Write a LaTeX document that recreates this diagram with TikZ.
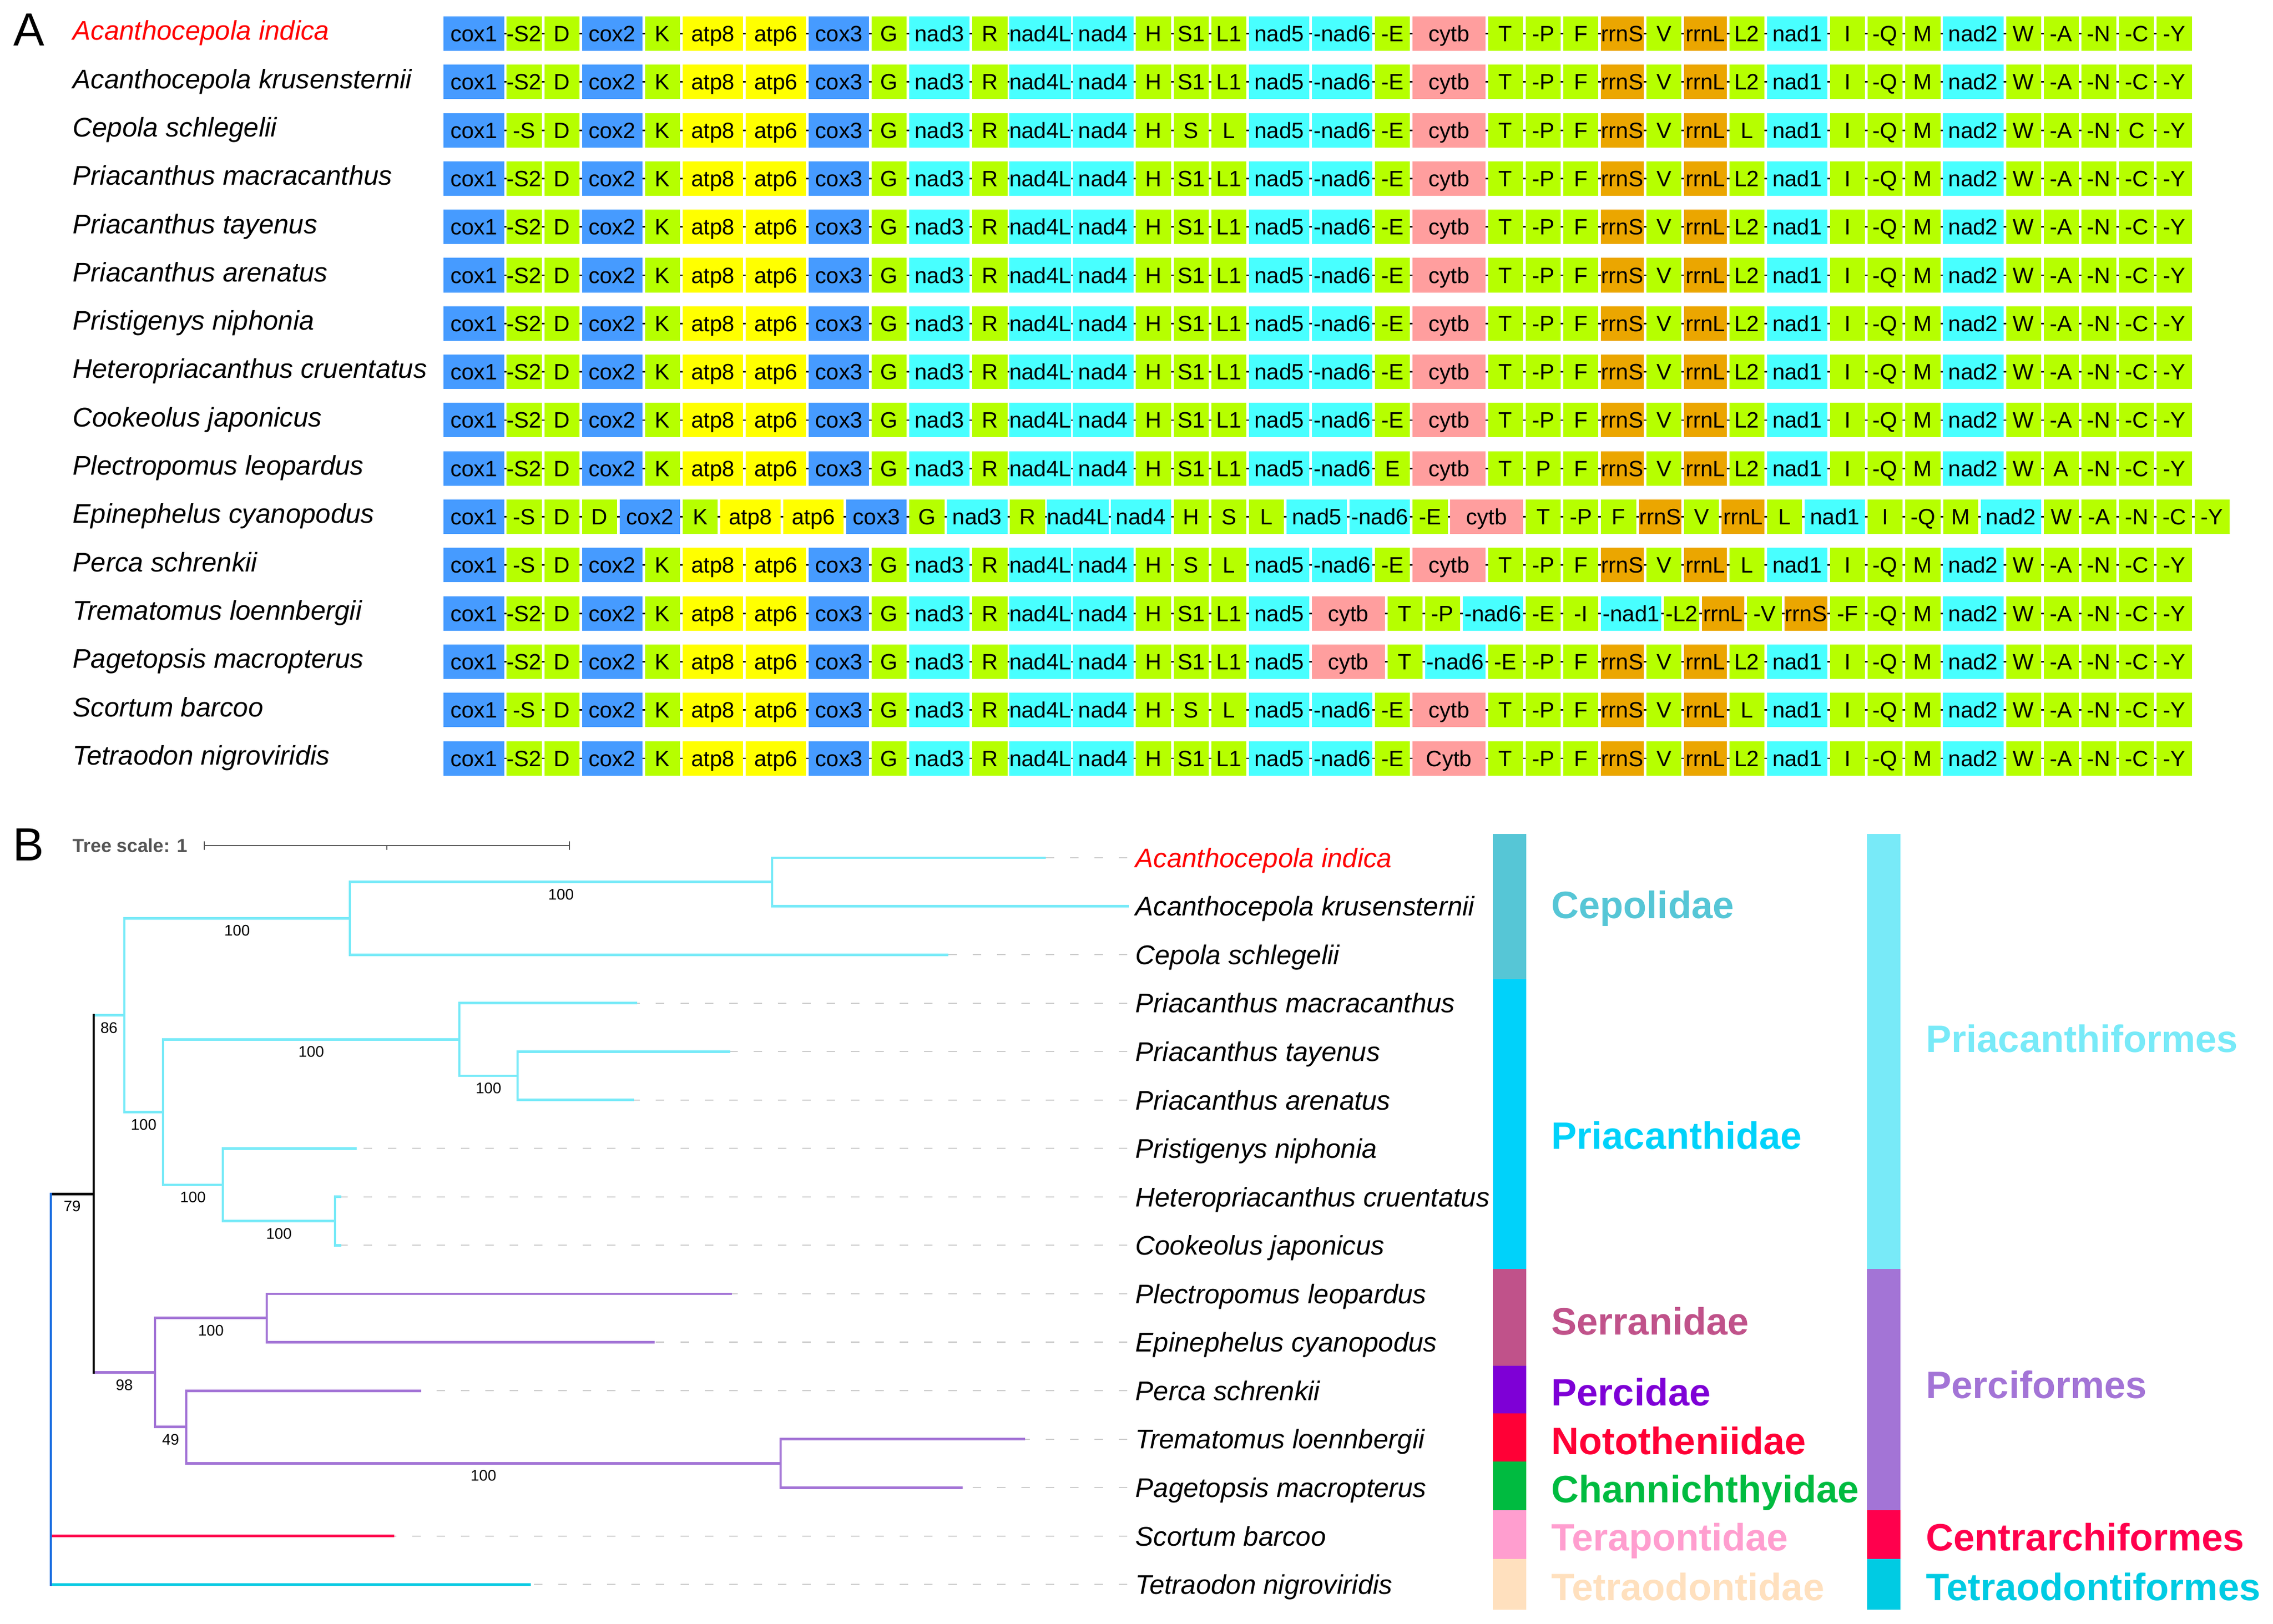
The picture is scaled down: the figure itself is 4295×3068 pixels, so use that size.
\documentclass[tikz,border=0pt]{standalone}
\usepackage{fontspec}
\setmainfont{Liberation Sans}
\usepackage{tikz}
\usetikzlibrary{calc}
\usetikzlibrary{backgrounds}
\usepackage{color}
% gene classes
\definecolor{genec}{RGB}{70, 155, 255}
\definecolor{genet}{RGB}{182, 255, 0}
\definecolor{genea}{RGB}{255, 255, 0}
\definecolor{genen}{RGB}{72, 255, 255}
\definecolor{geneb}{RGB}{255, 158, 158}
\definecolor{gener}{RGB}{235, 166, 0}
% clades
\definecolor{priacanth}{RGB}{120, 234, 248}
\definecolor{perci}{RGB}{163, 116, 214}
\definecolor{rootblue}{RGB}{28, 110, 224}
\definecolor{centrarch}{RGB}{255, 0, 77}
\definecolor{tetraodon}{RGB}{0, 203, 227}
\definecolor{cepolid}{RGB}{86, 198, 214}
\definecolor{priacanthid}{RGB}{0, 210, 250}
\definecolor{serranid}{RGB}{192, 82, 138}
\definecolor{percid}{RGB}{126, 0, 214}
\definecolor{nototheniid}{RGB}{255, 0, 54}
\definecolor{channichthyid}{RGB}{0, 187, 64}
\definecolor{terapontid}{RGB}{255, 158, 207}
\definecolor{tetraodontid}{RGB}{255, 224, 190}
\definecolor{scalegray}{RGB}{85, 85, 85}

% box widths (px) per gene class
\def\genewc{119}
\def\genewa{119}
\def\genewn{119}
\def\genewt{71.2}
\def\genewb{142.4}
\def\genewr{85.6}

\tikzset{
    genebox/.style={inner sep=0pt, minimum height=0.65cm, font=\fontsize{11.95}{13}\selectfont,
                    text height=8.56pt, text depth=0pt},
    genelink/.style={draw=black, line width=0.8pt},
    taxon/.style={anchor=west, inner ysep=0pt, inner xsep=0.15cm, font=\fontsize{14.5}{17}\selectfont\itshape,
                  text height=10.4pt, text depth=0pt},
    boot/.style={inner sep=0pt, font=\fontsize{8.25}{9}\selectfont, text height=5.9pt, text depth=0pt},
    panel/.style={inner sep=0pt, font=\fontsize{25}{28}\selectfont},
    cladename/.style={anchor=base west, inner sep=0pt, font=\fontsize{20.5}{24}\selectfont\bfseries},
    scaletext/.style={anchor=west, inner sep=0pt, text=scalegray, font=\fontsize{10.1}{12}\selectfont\bfseries,
                      text height=7.2pt, text depth=0pt},
    scalebar/.style={draw=scalegray, line width=0.8pt},
    tipdash/.style={draw=gray!40, line width=0.6pt, dash pattern=on 0.16cm off 0.30cm},
    pribranch/.style={draw=priacanth, line width=1.4pt, line cap=rect},
    perbranch/.style={draw=perci, line width=1.4pt, line cap=rect},
    stembranch/.style={draw=black, line width=1.4pt, line cap=rect},
    rootbranch/.style={draw=rootblue, line width=1.4pt, line cap=rect},
    cenbranch/.style={draw=centrarch, line width=1.4pt},
    tetbranch/.style={draw=tetraodon, line width=1.4pt}
}

% one row of the gene order: #1 = row, #2 = class/label list
\newcommand{\generow}[2]{%
    \pgfmathsetmacro{\rowy}{63.5+91.3*(#1-1)}%
    \xdef\genex{838.5}%
    \foreach \kind/\gname [count=\gi] in {#2}{%
        \pgfmathsetmacro{\gw}{\csname genew\kind\endcsname}%
        \pgfmathsetmacro{\gcx}{\genex+(\gw-5)/2}%
        \pgfmathsetmacro{\gww}{(\gw-5)*0.2845276}%
        \node[genebox, fill=gene\kind, minimum width=\gww pt] (g#1-\gi) at (\gcx,\rowy) {\gname};%
        \pgfmathsetmacro{\gnext}{\genex+\gw}%
        \xdef\genex{\gnext}%
        \xdef\genelast{\gi}%
    }%
    \begin{pgfonlayer}{background}
        \draw[genelink] (g#1-1.center) -- (g#1-\genelast.center);
    \end{pgfonlayer}%
}

\begin{document}
\begin{tikzpicture}[x=0.01cm, y=-0.01cm]
    \useasboundingbox (0,0) rectangle (4295,3068);

    % Panel A: gene order
    \node[panel] (panelA) at (55,56) {A};
    \foreach \taxname/\taxcol [count=\rw] in {Acanthocepola indica/red, Acanthocepola krusensternii/black,
            Cepola schlegelii/black, Priacanthus macracanthus/black, Priacanthus tayenus/black,
            Priacanthus arenatus/black, Pristigenys niphonia/black, Heteropriacanthus cruentatus/black,
            Cookeolus japonicus/black, Plectropomus leopardus/black, Epinephelus cyanopodus/black,
            Perca schrenkii/black, Trematomus loennbergii/black, Pagetopsis macropterus/black,
            Scortum barcoo/black, Tetraodon nigroviridis/black}
        \node[taxon, text=\taxcol] (sp\rw) at (122,{57.5+91.3*(\rw-1)}) {\taxname};

    \foreach \rw in {1,2,4,5,6,7,8,9}{
        \generow{\rw}{c/cox1,t/-S2,t/D,c/cox2,t/K,a/atp8,a/atp6,c/cox3,t/G,n/nad3,t/R,n/nad4L,n/nad4,t/H,t/S1,t/L1,
            n/nad5,n/-nad6,t/-E,b/cytb,t/T,t/-P,t/F,r/rrnS,t/V,r/rrnL,t/L2,n/nad1,t/I,t/-Q,t/M,n/nad2,t/W,t/-A,t/-N,t/-C,t/-Y}
    }
    \generow{3}{c/cox1,t/-S,t/D,c/cox2,t/K,a/atp8,a/atp6,c/cox3,t/G,n/nad3,t/R,n/nad4L,n/nad4,t/H,t/S,t/L,
        n/nad5,n/-nad6,t/-E,b/cytb,t/T,t/-P,t/F,r/rrnS,t/V,r/rrnL,t/L,n/nad1,t/I,t/-Q,t/M,n/nad2,t/W,t/-A,t/-N,t/C,t/-Y}
    \generow{10}{c/cox1,t/-S2,t/D,c/cox2,t/K,a/atp8,a/atp6,c/cox3,t/G,n/nad3,t/R,n/nad4L,n/nad4,t/H,t/S1,t/L1,
        n/nad5,n/-nad6,t/E,b/cytb,t/T,t/P,t/F,r/rrnS,t/V,r/rrnL,t/L2,n/nad1,t/I,t/-Q,t/M,n/nad2,t/W,t/A,t/-N,t/-C,t/-Y}
    \generow{11}{c/cox1,t/-S,t/D,t/D,c/cox2,t/K,a/atp8,a/atp6,c/cox3,t/G,n/nad3,t/R,n/nad4L,n/nad4,t/H,t/S,t/L,
        n/nad5,n/-nad6,t/-E,b/cytb,t/T,t/-P,t/F,r/rrnS,t/V,r/rrnL,t/L,n/nad1,t/I,t/-Q,t/M,n/nad2,t/W,t/-A,t/-N,t/-C,t/-Y}
    \foreach \rw in {12,15}{
        \generow{\rw}{c/cox1,t/-S,t/D,c/cox2,t/K,a/atp8,a/atp6,c/cox3,t/G,n/nad3,t/R,n/nad4L,n/nad4,t/H,t/S,t/L,
            n/nad5,n/-nad6,t/-E,b/cytb,t/T,t/-P,t/F,r/rrnS,t/V,r/rrnL,t/L,n/nad1,t/I,t/-Q,t/M,n/nad2,t/W,t/-A,t/-N,t/-C,t/-Y}
    }
    \generow{13}{c/cox1,t/-S2,t/D,c/cox2,t/K,a/atp8,a/atp6,c/cox3,t/G,n/nad3,t/R,n/nad4L,n/nad4,t/H,t/S1,t/L1,
        n/nad5,b/cytb,t/T,t/-P,n/-nad6,t/-E,t/-I,n/-nad1,t/-L2,r/rrnL,t/-V,r/rrnS,t/-F,t/-Q,t/M,n/nad2,t/W,t/-A,t/-N,t/-C,t/-Y}
    \generow{14}{c/cox1,t/-S2,t/D,c/cox2,t/K,a/atp8,a/atp6,c/cox3,t/G,n/nad3,t/R,n/nad4L,n/nad4,t/H,t/S1,t/L1,
        n/nad5,b/cytb,t/T,n/-nad6,t/-E,t/-P,t/F,r/rrnS,t/V,r/rrnL,t/L2,n/nad1,t/I,t/-Q,t/M,n/nad2,t/W,t/-A,t/-N,t/-C,t/-Y}
    \generow{16}{c/cox1,t/-S2,t/D,c/cox2,t/K,a/atp8,a/atp6,c/cox3,t/G,n/nad3,t/R,n/nad4L,n/nad4,t/H,t/S1,t/L1,
        n/nad5,n/-nad6,t/-E,b/Cytb,t/T,t/-P,t/F,r/rrnS,t/V,r/rrnL,t/L2,n/nad1,t/I,t/-Q,t/M,n/nad2,t/W,t/-A,t/-N,t/-C,t/-Y}

    % Panel B: tree
    \node[panel] (panelB) at (54,1596) {B};
    \node[scaletext] (tscale) at (137,1598) {Tree scale: 1};
    \coordinate (barL) at (386,1598);
    \coordinate (barR) at (1076,1598);
    \draw[scalebar] (barL) -- (barR);
    \draw[scalebar] ($(barL)+(0,-8)$) -- ($(barL)+(0,8)$);
    \draw[scalebar] ($(barR)+(0,-8)$) -- ($(barR)+(0,8)$);
    \draw[scalebar] ($(barL)!0.5!(barR)$) -- ++(0,8);

    % Tips, labels and leader dashes
    \foreach \taxname/\tipx/\taxcol [count=\rw] in {Acanthocepola indica/1974/red, Acanthocepola krusensternii/2131/black,
            Cepola schlegelii/1790/black, Priacanthus macracanthus/1202/black, Priacanthus tayenus/1378/black,
            Priacanthus arenatus/1196/black, Pristigenys niphonia/672/black, Heteropriacanthus cruentatus/643/black,
            Cookeolus japonicus/643/black, Plectropomus leopardus/1381/black, Epinephelus cyanopodus/1235/black,
            Perca schrenkii/794/black, Trematomus loennbergii/1935/black, Pagetopsis macropterus/1817/black,
            Scortum barcoo/745/black, Tetraodon nigroviridis/1003/black}{
        \coordinate (tip\rw) at (\tipx,{1621+91.55*(\rw-1)});
        \node[taxon, text=\taxcol] (tx\rw) at (2130,{1621+91.55*(\rw-1)}) {\taxname};
        \draw[tipdash] (tx\rw.west) -- (tip\rw);
    }

    % Internal nodes
    \coordinate (root)  at (96, 2256.2);
    \coordinate (n79)   at (177, 2256.2);
    \coordinate (n86)   at (235, 1918.6);
    \coordinate (n98)   at (293, 2593.7);
    \coordinate (nCep)  at (661, 1735.4);
    \coordinate (nAca)  at (1459, 1666.8);
    \coordinate (nPri)  at (308, 2101.7);
    \coordinate (nPriA) at (868, 1964.3);
    \coordinate (nPriB) at (978, 2033.0);
    \coordinate (nPriC) at (421, 2239.0);
    \coordinate (nHet)  at (633, 2307.6);
    \coordinate (nSer)  at (504, 2490.7);
    \coordinate (n49)   at (352, 2696.7);
    \coordinate (nNot)  at (1475, 2765.4);

    % Priacanthiformes
    \draw[pribranch] (tip1) -| (nAca) |- (tip2);
    \draw[pribranch] (nAca) -| (nCep) |- (tip3);
    \draw[pribranch] (nCep) -| (n86) |- (nPri);
    \draw[pribranch] (tip4) -| (nPriA) |- (nPriB);
    \draw[pribranch] (tip5) -| (nPriB) |- (tip6);
    \draw[pribranch] (nPriA) -| (nPri) |- (nPriC);
    \draw[pribranch] (tip7) -| (nPriC) |- (nHet);
    \draw[pribranch] (tip8) -| (nHet) |- (tip9);
    % Perciformes
    \draw[perbranch] (nSer) -| (n98) |- (n49);
    \draw[perbranch] (tip10) -| (nSer) |- (tip11);
    \draw[perbranch] (tip12) -| (n49) |- (nNot);
    \draw[perbranch] (tip13) -| (nNot) |- (tip14);
    % Stem and root
    \draw[pribranch] (n79 |- n86) -- (n86);
    \draw[perbranch] (n79 |- n98) -- (n98);
    \draw[stembranch] (n79 |- n86) -- (n79 |- n98);
    \draw[stembranch] (root) -- (n79);
    \draw[cenbranch] (root |- tip15) -- (tip15);
    \draw[tetbranch] (root |- tip16) -- (tip16);
    \draw[rootbranch] (root) -- (root |- tip16);

    % Bootstrap values
    \node[boot] (bs79)   at ($(root)!0.5!(n79)+(0,23)$) {79};
    \node[boot] (bs86)   at ($(n79 |- n86)!0.5!(n86)+(0,23)$) {86};
    \node[boot] (bsCep)  at ($(n86 |- nCep)!0.5!(nCep)+(0,23)$) {100};
    \node[boot] (bsAca)  at ($(nCep |- nAca)!0.5!(nAca)+(0,23)$) {100};
    \node[boot] (bsPri)  at ($(n86 |- nPri)!0.5!(nPri)+(0,23)$) {100};
    \node[boot] (bsPriA) at ($(nPri |- nPriA)!0.5!(nPriA)+(0,23)$) {100};
    \node[boot] (bsPriB) at ($(nPriA |- nPriB)!0.5!(nPriB)+(0,23)$) {100};
    \node[boot] (bsPriC) at ($(nPri |- nPriC)!0.5!(nPriC)+(0,23)$) {100};
    \node[boot] (bsHet)  at ($(nPriC |- nHet)!0.5!(nHet)+(0,23)$) {100};
    \node[boot] (bs98)   at ($(n79 |- n98)!0.5!(n98)+(0,23)$) {98};
    \node[boot] (bsSer)  at ($(n98 |- nSer)!0.5!(nSer)+(0,23)$) {100};
    \node[boot] (bs49)   at ($(n98 |- n49)!0.5!(n49)+(0,23)$) {49};
    \node[boot] (bsNot)  at ($(n49 |- nNot)!0.5!(nNot)+(0,23)$) {100};

    % Family strip
    \fill[cepolid]       (2821,1576) rectangle (2884,1850);
    \fill[priacanthid]   (2821,1850) rectangle (2884,2398);
    \fill[serranid]      (2821,2398) rectangle (2884,2581);
    \fill[percid]        (2821,2581) rectangle (2884,2671);
    \fill[nototheniid]   (2821,2671) rectangle (2884,2762);
    \fill[channichthyid] (2821,2762) rectangle (2884,2854);
    \fill[terapontid]    (2821,2854) rectangle (2884,2946);
    \fill[tetraodontid]  (2821,2946) rectangle (2884,3042);
    \node[cladename, text=cepolid]       (famCep) at (2931,1735) {Cepolidae};
    \node[cladename, text=priacanthid]   (famPri) at (2931,2171) {Priacanthidae};
    \node[cladename, text=serranid]      (famSer) at (2931,2522) {Serranidae};
    \node[cladename, text=percid]        (famPer) at (2931,2656) {Percidae};
    \node[cladename, text=nototheniid]   (famNot) at (2931,2748) {Nototheniidae};
    \node[cladename, text=channichthyid] (famCha) at (2931,2839) {Channichthyidae};
    \node[cladename, text=terapontid]    (famTer) at (2931,2930) {Terapontidae};
    \node[cladename, text=tetraodontid]  (famTet) at (2931,3024) {Tetraodontidae};

    % Order strip
    \fill[priacanth] (3528,1576) rectangle (3591,2398);
    \fill[perci]     (3528,2398) rectangle (3591,2854);
    \fill[centrarch] (3528,2854) rectangle (3591,2946);
    \fill[tetraodon] (3528,2946) rectangle (3591,3042);
    \node[cladename, text=priacanth] (ordPri) at (3639,1988) {Priacanthiformes};
    \node[cladename, text=perci]     (ordPer) at (3639,2642) {Perciformes};
    \node[cladename, text=centrarch] (ordCen) at (3639,2930) {Centrarchiformes};
    \node[cladename, text=tetraodon] (ordTet) at (3639,3024) {Tetraodontiformes};
\end{tikzpicture}
\end{document}
